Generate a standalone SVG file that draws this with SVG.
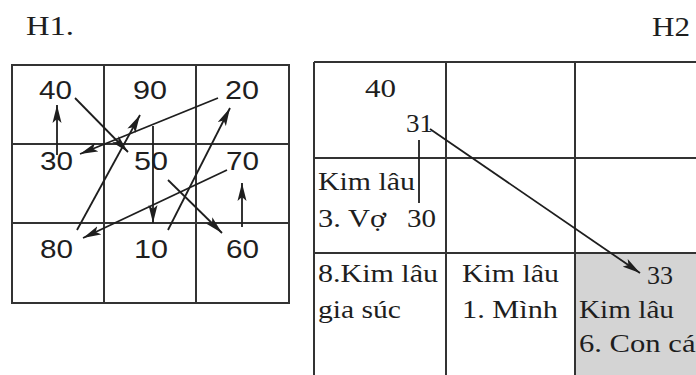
<svg xmlns="http://www.w3.org/2000/svg" width="696" height="375" viewBox="0 0 696 375">
<style>
.grid{fill:none;stroke:#333;stroke-width:2}
.ln{stroke:#1e1e1e;stroke-width:1.8;fill:none}
.arr{stroke:#1e1e1e;stroke-width:1.8;fill:none;marker-end:url(#ah)}
.sans{font-family:"Liberation Sans",Arial,sans-serif;font-size:25px;fill:#1e1e1e}
.serif{font-family:"Liberation Serif","Times New Roman",serif;font-size:25px;fill:#1e1e1e}
.title{font-family:"Liberation Serif","Times New Roman",serif;font-size:28px;fill:#1e1e1e}
</style>
<defs>
<marker id="ah" markerUnits="userSpaceOnUse" markerWidth="19" markerHeight="10" refX="18" refY="5" orient="auto">
<path d="M0,0.5 L18,5 L0,9.5 L4,5 Z" fill="#1e1e1e"/>
</marker>
</defs>
<rect width="696" height="375" fill="#fff"/>
<text class="title" x="26" y="35" textLength="48" lengthAdjust="spacingAndGlyphs">H1.</text>
<text class="title" x="652" y="36" textLength="38" lengthAdjust="spacingAndGlyphs">H2</text>

<g id="h1-grid">
<rect class="grid" x="12" y="65" width="277" height="238"/>
<line class="grid" x1="104" y1="65" x2="104" y2="303"/>
<line class="grid" x1="196" y1="65" x2="196" y2="303"/>
<line class="grid" x1="12" y1="144" x2="289" y2="144"/>
<line class="grid" x1="12" y1="223" x2="289" y2="223"/>
</g>
<g id="n40"><text class="sans" x="39" y="99" textLength="33" lengthAdjust="spacingAndGlyphs">40</text></g>
<g id="n90"><text class="sans" x="133" y="99" textLength="34" lengthAdjust="spacingAndGlyphs">90</text></g>
<g id="n20"><text class="sans" x="225" y="99" textLength="34" lengthAdjust="spacingAndGlyphs">20</text></g>
<g id="n30"><text class="sans" x="40" y="170" textLength="33" lengthAdjust="spacingAndGlyphs">30</text></g>
<g id="n50"><text class="sans" x="134" y="170" textLength="34" lengthAdjust="spacingAndGlyphs">50</text></g>
<g id="n70"><text class="sans" x="226" y="170" textLength="33" lengthAdjust="spacingAndGlyphs">70</text></g>
<g id="n80"><text class="sans" x="40" y="258" textLength="33" lengthAdjust="spacingAndGlyphs">80</text></g>
<g id="n10"><text class="sans" x="134" y="258" textLength="34" lengthAdjust="spacingAndGlyphs">10</text></g>
<g id="n60"><text class="sans" x="226" y="258" textLength="33" lengthAdjust="spacingAndGlyphs">60</text></g>

<g id="h1-connectors">
<line class="arr" x1="57" y1="155" x2="57" y2="105"/>
<line class="arr" x1="75" y1="98" x2="128" y2="152"/>
<line class="arr" x1="77" y1="230" x2="140" y2="115"/>
<line class="arr" x1="153" y1="126" x2="153" y2="223"/>
<line class="arr" x1="168" y1="230" x2="230" y2="108"/>
<line class="arr" x1="218" y1="98" x2="80" y2="154"/>
<line class="arr" x1="168" y1="180" x2="222" y2="233"/>
<line class="arr" x1="242" y1="227" x2="242" y2="183"/>
<line class="arr" x1="227" y1="170" x2="83" y2="238"/>
</g>

<g id="h2-grid">
<rect x="575" y="253" width="130" height="130" fill="#d4d4d4"/>
<line class="grid" x1="314" y1="62" x2="696" y2="62"/>
<line class="grid" x1="314" y1="158" x2="696" y2="158"/>
<line class="grid" x1="314" y1="253" x2="696" y2="253"/>
<line class="grid" x1="314" y1="62" x2="314" y2="375"/>
<line class="grid" x1="446" y1="62" x2="446" y2="375"/>
<line class="grid" x1="575" y1="62" x2="575" y2="375"/>
</g>
<g id="c-top">
<text class="serif" x="365" y="97" textLength="31" lengthAdjust="spacingAndGlyphs">40</text>
<text class="serif" x="406" y="132" textLength="27" lengthAdjust="spacingAndGlyphs">31</text>
</g>
<g id="c-vo">
<text class="serif" x="318" y="190" textLength="97" lengthAdjust="spacingAndGlyphs">Kim lâu</text>
<text class="serif" x="318" y="227" textLength="68" lengthAdjust="spacingAndGlyphs">3. Vợ</text>
<text class="serif" x="407" y="227" textLength="29" lengthAdjust="spacingAndGlyphs">30</text>
</g>
<g id="c-giasuc">
<text class="serif" x="318" y="282" textLength="120" lengthAdjust="spacingAndGlyphs">8.Kim lâu</text>
<text class="serif" x="318" y="318" textLength="83" lengthAdjust="spacingAndGlyphs">gia súc</text>
</g>
<g id="c-minh">
<text class="serif" x="462" y="282" textLength="97" lengthAdjust="spacingAndGlyphs">Kim lâu</text>
<text class="serif" x="462" y="318" textLength="96" lengthAdjust="spacingAndGlyphs">1. Mình</text>
</g>
<g id="c-concai">
<text class="serif" x="647" y="284" textLength="26" lengthAdjust="spacingAndGlyphs">33</text>
<text class="serif" x="579" y="318" textLength="95" lengthAdjust="spacingAndGlyphs">Kim lâu</text>
<text class="serif" x="579" y="352" textLength="125" lengthAdjust="spacingAndGlyphs">6. Con cái</text>
</g>
<g id="h2-connectors">
<line class="ln" x1="419" y1="140" x2="419" y2="203"/>
<line class="arr" x1="430" y1="129" x2="640" y2="273"/>
</g>
</svg>
